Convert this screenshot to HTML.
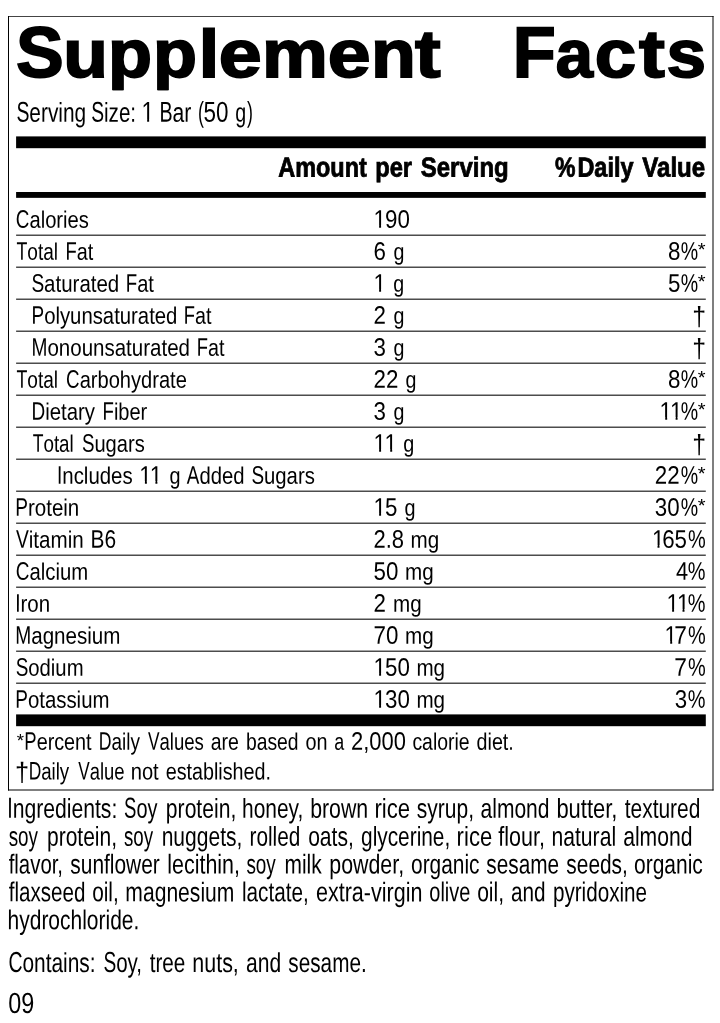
<!DOCTYPE html>
<html lang="en">
<head>
<meta charset="utf-8">
<title>Supplement Facts</title>
<style>
html,body{margin:0;padding:0;background:#fff;}
body{width:720px;height:1023px;overflow:hidden;}
svg{display:block;}
text{font-family:'Liberation Sans', sans-serif;fill:#000;white-space:pre;text-rendering:geometricPrecision;}
.b{font-weight:700;}
</style>
</head>
<body>
<svg width="720" height="1023" viewBox="0 0 720 1023" role="img" aria-label="Supplement Facts">
<desc>Supplement Facts
Serving Size: 1 Bar (50 g)
Amount per Serving %Daily Value
Calories
190
Total Fat
6 g
8%*
Saturated Fat
1 g
5%*
Polyunsaturated Fat
2 g
†
Monounsaturated Fat
3 g
†
Total Carbohydrate
22 g
8%*
Dietary Fiber
3 g
11%*
Total Sugars
11 g
†
Includes 11 g Added Sugars
22%*
Protein
15 g
30%*
Vitamin B6
2.8 mg
165%
Calcium
50 mg
4%
Iron
2 mg
11%
Magnesium
70 mg
17%
Sodium
150 mg
7%
Potassium
130 mg
3%
*Percent Daily Values are based on a 2,000 calorie diet.
†Daily Value not established.
Ingredients: Soy protein, honey, brown rice syrup, almond butter, textured
soy protein, soy nuggets, rolled oats, glycerine, rice flour, natural almond
flavor, sunflower lecithin, soy milk powder, organic sesame seeds, organic
flaxseed oil, magnesium lactate, extra-virgin olive oil, and pyridoxine
hydrochloride.
Contains: Soy, tree nuts, and sesame.
09</desc>
<rect width="720" height="1023" fill="#fff"/>
<rect x="8" y="16" width="705.5" height="1" fill="#444"/>
<rect x="8" y="789.5" width="705.5" height="1" fill="#000"/>
<rect x="8" y="16" width="1" height="774.5" fill="#000"/>
<rect x="712.5" y="16" width="1" height="774.5" fill="#000"/>
<rect x="16.1" y="136.4" width="689.7" height="11.8" fill="#000"/>
<rect x="16.1" y="192" width="689.7" height="5.85" fill="#000"/>
<rect x="16.1" y="714.4" width="689.7" height="11.8" fill="#000"/>
<rect x="16.1" y="234.65" width="689.7" height="1.05" fill="#000"/>
<rect x="16.1" y="266.65" width="689.7" height="1.05" fill="#000"/>
<rect x="16.1" y="298.65" width="689.7" height="1.05" fill="#000"/>
<rect x="16.1" y="330.65" width="689.7" height="1.05" fill="#000"/>
<rect x="16.1" y="362.65" width="689.7" height="1.05" fill="#000"/>
<rect x="16.1" y="394.65" width="689.7" height="1.05" fill="#000"/>
<rect x="16.1" y="426.65" width="689.7" height="1.05" fill="#000"/>
<rect x="16.1" y="458.65" width="689.7" height="1.05" fill="#000"/>
<rect x="16.1" y="490.65" width="689.7" height="1.05" fill="#000"/>
<rect x="16.1" y="522.65" width="689.7" height="1.05" fill="#000"/>
<rect x="16.1" y="554.65" width="689.7" height="1.05" fill="#000"/>
<rect x="16.1" y="586.65" width="689.7" height="1.05" fill="#000"/>
<rect x="16.1" y="618.65" width="689.7" height="1.05" fill="#000"/>
<rect x="16.1" y="650.65" width="689.7" height="1.05" fill="#000"/>
<rect x="16.1" y="682.65" width="689.7" height="1.05" fill="#000"/>
<clipPath id="tclip"><rect x="0" y="0" width="720" height="90.2"/></clipPath>
<text class="b" clip-path="url(#tclip)" y="77" font-size="67.2" stroke="#000" stroke-width="1.8" stroke-linejoin="miter"><tspan x="16.09" textLength="47.7" lengthAdjust="spacingAndGlyphs" font-size="71.6">S</tspan><tspan x="63.27" textLength="44.65" lengthAdjust="spacingAndGlyphs">u</tspan><tspan x="108.05" textLength="44" lengthAdjust="spacingAndGlyphs">p</tspan><tspan x="153.05" textLength="44" lengthAdjust="spacingAndGlyphs">p</tspan><tspan x="198.86" textLength="20.45" lengthAdjust="spacingAndGlyphs">l</tspan><tspan x="218.78" textLength="42.96" lengthAdjust="spacingAndGlyphs">e</tspan><tspan x="261.92" textLength="65.88" lengthAdjust="spacingAndGlyphs">m</tspan><tspan x="327.89" textLength="42.84" lengthAdjust="spacingAndGlyphs">e</tspan><tspan x="371.06" textLength="44.84" lengthAdjust="spacingAndGlyphs">n</tspan><tspan x="414.96" textLength="25.68" lengthAdjust="spacingAndGlyphs">t</tspan></text>
<text class="b" clip-path="url(#tclip)" y="77" font-size="67.2" stroke="#000" stroke-width="1.8" stroke-linejoin="miter"><tspan x="512.69" textLength="42.98" lengthAdjust="spacingAndGlyphs" font-size="71.6">F</tspan><tspan x="555.84" textLength="37.24" lengthAdjust="spacingAndGlyphs">a</tspan><tspan x="594.89" textLength="41.39" lengthAdjust="spacingAndGlyphs">c</tspan><tspan x="638.95" textLength="25.84" lengthAdjust="spacingAndGlyphs">t</tspan><tspan x="666.5" textLength="39.51" lengthAdjust="spacingAndGlyphs">s</tspan></text>
<text y="121.7" font-size="28.8" transform="rotate(0.05)"><tspan x="16.5" y="121.69" textLength="12.96" lengthAdjust="spacingAndGlyphs">S</tspan><tspan x="29.46" y="121.67" font-size="27.22" textLength="56.82" lengthAdjust="spacingAndGlyphs">erving</tspan> <tspan x="91.26" y="121.62" textLength="12.83" lengthAdjust="spacingAndGlyphs">S</tspan><tspan x="104.08" y="121.61" font-size="27.22" textLength="32.14" lengthAdjust="spacingAndGlyphs">ize:</tspan> <tspan x="141.61" y="121.58" textLength="12.49" lengthAdjust="spacingAndGlyphs">1</tspan> <tspan x="159.57" y="121.56" textLength="13.11" lengthAdjust="spacingAndGlyphs">B</tspan><tspan x="172.68" y="121.55" font-size="27.22" textLength="18.77" lengthAdjust="spacingAndGlyphs">ar</tspan> <tspan x="198.07" y="121.53" textLength="5.92" lengthAdjust="spacingAndGlyphs">(</tspan><tspan x="203.6" y="121.52" textLength="24.96" lengthAdjust="spacingAndGlyphs">50</tspan> <tspan x="235.29" y="121.49" font-size="27.22" textLength="10.92" lengthAdjust="spacingAndGlyphs">g</tspan><tspan x="247.11" y="121.48" textLength="5.92" lengthAdjust="spacingAndGlyphs">)</tspan></text>
<text class="b" y="176.4" font-size="27.4" stroke="#000" stroke-width="0.8" transform="rotate(0.05)"><tspan x="278.44" y="176.16" textLength="88.53" lengthAdjust="spacingAndGlyphs">Amount</tspan> <tspan x="375.32" y="176.07" textLength="36.87" lengthAdjust="spacingAndGlyphs">per</tspan> <tspan x="420.98" y="176.03" textLength="87.81" lengthAdjust="spacingAndGlyphs">Serving</tspan> <tspan x="555.19" y="175.92" textLength="20.49" lengthAdjust="spacingAndGlyphs">%</tspan><tspan x="577.59" y="175.9" textLength="56.02" lengthAdjust="spacingAndGlyphs">Daily</tspan> <tspan x="642.45" y="175.84" textLength="62.9" lengthAdjust="spacingAndGlyphs">Value</tspan></text>
<text y="227.7" font-size="25.3" transform="rotate(0.05)"><tspan x="16.07" y="227.69" textLength="13.57" lengthAdjust="spacingAndGlyphs">C</tspan><tspan x="29.64" y="227.67" font-size="23.91" textLength="59.44" lengthAdjust="spacingAndGlyphs">alories</tspan></text>
<text y="227.7" font-size="25.3" transform="rotate(0.05)"><tspan x="373.7" y="227.37" textLength="12.41" lengthAdjust="spacingAndGlyphs">1</tspan><tspan x="385.2" y="227.36" textLength="24.82" lengthAdjust="spacingAndGlyphs">90</tspan></text>
<text y="259.7" font-size="25.3" transform="rotate(0.05)"><tspan x="16.7" y="259.69" textLength="10.83" lengthAdjust="spacingAndGlyphs">T</tspan><tspan x="27.53" y="259.68" font-size="23.91" textLength="30.7" lengthAdjust="spacingAndGlyphs">otal</tspan> <tspan x="65.79" y="259.64" textLength="11.26" lengthAdjust="spacingAndGlyphs">F</tspan><tspan x="77.05" y="259.63" font-size="23.91" textLength="16.51" lengthAdjust="spacingAndGlyphs">at</tspan></text>
<text y="259.7" font-size="25.3" transform="rotate(0.05)"><tspan x="373.83" y="259.37" textLength="12.41" lengthAdjust="spacingAndGlyphs">6</tspan> <tspan x="393.61" y="259.36" font-size="23.91" textLength="10.92" lengthAdjust="spacingAndGlyphs">g</tspan></text>
<text y="259.7" font-size="25.3" transform="rotate(0.05)"><tspan x="668.33" y="259.12" textLength="12.41" lengthAdjust="spacingAndGlyphs">8</tspan><tspan x="681.02" y="259.11" textLength="17.39" lengthAdjust="spacingAndGlyphs">%</tspan><tspan x="697.91" y="254.99" font-size="18" textLength="7.8" lengthAdjust="spacingAndGlyphs">*</tspan></text>
<text y="291.7" font-size="25.3" transform="rotate(0.05)"><tspan x="31.66" y="291.67" textLength="12.72" lengthAdjust="spacingAndGlyphs">S</tspan><tspan x="44.38" y="291.66" font-size="23.91" textLength="75.13" lengthAdjust="spacingAndGlyphs">aturated</tspan> <tspan x="126.05" y="291.59" textLength="11.41" lengthAdjust="spacingAndGlyphs">F</tspan><tspan x="137.46" y="291.58" font-size="23.91" textLength="16.73" lengthAdjust="spacingAndGlyphs">at</tspan></text>
<text y="291.7" font-size="25.3" transform="rotate(0.05)"><tspan x="373.75" y="291.37" textLength="12.41" lengthAdjust="spacingAndGlyphs">1</tspan> <tspan x="393.64" y="291.36" font-size="23.91" textLength="10.92" lengthAdjust="spacingAndGlyphs">g</tspan></text>
<text y="291.7" font-size="25.3" transform="rotate(0.05)"><tspan x="668.35" y="291.12" textLength="12.41" lengthAdjust="spacingAndGlyphs">5</tspan><tspan x="681.04" y="291.11" textLength="17.39" lengthAdjust="spacingAndGlyphs">%</tspan><tspan x="697.94" y="286.99" font-size="18" textLength="7.8" lengthAdjust="spacingAndGlyphs">*</tspan></text>
<text y="323.7" font-size="25.3" transform="rotate(0.05)"><tspan x="31.8" y="323.67" textLength="12.62" lengthAdjust="spacingAndGlyphs">P</tspan><tspan x="44.42" y="323.66" font-size="23.91" textLength="133.25" lengthAdjust="spacingAndGlyphs">olyunsaturated</tspan> <tspan x="184.1" y="323.54" textLength="11.2" lengthAdjust="spacingAndGlyphs">F</tspan><tspan x="195.3" y="323.53" font-size="23.91" textLength="16.42" lengthAdjust="spacingAndGlyphs">at</tspan></text>
<text y="323.7" font-size="25.3" transform="rotate(0.05)"><tspan x="373.88" y="323.37" textLength="12.41" lengthAdjust="spacingAndGlyphs">2</tspan> <tspan x="393.67" y="323.36" font-size="23.91" textLength="10.92" lengthAdjust="spacingAndGlyphs">g</tspan></text>
<text y="323.7" font-size="25.3" transform="rotate(0.05)"><tspan x="692.48" y="325" font-size="27.1" textLength="13.79" lengthAdjust="spacingAndGlyphs">†</tspan></text>
<text y="355.7" font-size="25.3" transform="rotate(0.05)"><tspan x="31.82" y="355.67" textLength="15.91" lengthAdjust="spacingAndGlyphs">M</tspan><tspan x="47.73" y="355.66" font-size="23.91" textLength="142.54" lengthAdjust="spacingAndGlyphs">onounsaturated</tspan> <tspan x="197.08" y="355.53" textLength="11.22" lengthAdjust="spacingAndGlyphs">F</tspan><tspan x="208.29" y="355.52" font-size="23.91" textLength="16.45" lengthAdjust="spacingAndGlyphs">at</tspan></text>
<text y="355.7" font-size="25.3" transform="rotate(0.05)"><tspan x="373.91" y="355.37" textLength="12.41" lengthAdjust="spacingAndGlyphs">3</tspan> <tspan x="393.7" y="355.36" font-size="23.91" textLength="10.92" lengthAdjust="spacingAndGlyphs">g</tspan></text>
<text y="355.7" font-size="25.3" transform="rotate(0.05)"><tspan x="692.51" y="357" font-size="27.1" textLength="13.79" lengthAdjust="spacingAndGlyphs">†</tspan></text>
<text y="387.7" font-size="25.3" transform="rotate(0.05)"><tspan x="16.81" y="387.69" textLength="10.83" lengthAdjust="spacingAndGlyphs">T</tspan><tspan x="27.64" y="387.68" font-size="23.91" textLength="30.7" lengthAdjust="spacingAndGlyphs">otal</tspan> <tspan x="66.46" y="387.64" textLength="13.51" lengthAdjust="spacingAndGlyphs">C</tspan><tspan x="79.97" y="387.63" font-size="23.91" textLength="107.18" lengthAdjust="spacingAndGlyphs">arbohydrate</tspan></text>
<text y="387.7" font-size="25.3" transform="rotate(0.05)"><tspan x="373.94" y="387.37" textLength="24.82" lengthAdjust="spacingAndGlyphs">22</tspan> <tspan x="405.92" y="387.35" font-size="23.91" textLength="10.92" lengthAdjust="spacingAndGlyphs">g</tspan></text>
<text y="387.7" font-size="25.3" transform="rotate(0.05)"><tspan x="668.44" y="387.12" textLength="12.41" lengthAdjust="spacingAndGlyphs">8</tspan><tspan x="681.13" y="387.11" textLength="17.39" lengthAdjust="spacingAndGlyphs">%</tspan><tspan x="698.02" y="382.99" font-size="18" textLength="7.8" lengthAdjust="spacingAndGlyphs">*</tspan></text>
<text y="419.7" font-size="25.3" transform="rotate(0.05)"><tspan x="31.88" y="419.67" textLength="13.69" lengthAdjust="spacingAndGlyphs">D</tspan><tspan x="45.58" y="419.66" font-size="23.91" textLength="49.79" lengthAdjust="spacingAndGlyphs">ietary</tspan> <tspan x="102.91" y="419.61" textLength="11.38" lengthAdjust="spacingAndGlyphs">F</tspan><tspan x="114.29" y="419.6" font-size="23.91" textLength="33.37" lengthAdjust="spacingAndGlyphs">iber</tspan></text>
<text y="419.7" font-size="25.3" transform="rotate(0.05)"><tspan x="373.97" y="419.37" textLength="12.41" lengthAdjust="spacingAndGlyphs">3</tspan> <tspan x="393.75" y="419.36" font-size="23.91" textLength="10.92" lengthAdjust="spacingAndGlyphs">g</tspan></text>
<text y="419.7" font-size="25.3" transform="rotate(0.05)"><tspan x="659.97" y="419.12" textLength="12.41" lengthAdjust="spacingAndGlyphs">1</tspan><tspan x="670.37" y="419.12" textLength="12.41" lengthAdjust="spacingAndGlyphs">1</tspan><tspan x="681.15" y="419.11" textLength="17.39" lengthAdjust="spacingAndGlyphs">%</tspan><tspan x="698.05" y="414.99" font-size="18" textLength="7.8" lengthAdjust="spacingAndGlyphs">*</tspan></text>
<text y="451.7" font-size="25.3" transform="rotate(0.05)"><tspan x="33.12" y="451.67" textLength="10.7" lengthAdjust="spacingAndGlyphs">T</tspan><tspan x="43.82" y="451.66" font-size="23.91" textLength="30.32" lengthAdjust="spacingAndGlyphs">otal</tspan> <tspan x="82.31" y="451.63" textLength="12.49" lengthAdjust="spacingAndGlyphs">S</tspan><tspan x="94.8" y="451.62" font-size="23.91" textLength="50.32" lengthAdjust="spacingAndGlyphs">ugars</tspan></text>
<text y="451.7" font-size="25.3" transform="rotate(0.05)"><tspan x="373.89" y="451.37" textLength="12.41" lengthAdjust="spacingAndGlyphs">1</tspan><tspan x="384.99" y="451.36" textLength="12.41" lengthAdjust="spacingAndGlyphs">1</tspan> <tspan x="403.77" y="451.35" font-size="23.91" textLength="11.03" lengthAdjust="spacingAndGlyphs">g</tspan></text>
<text y="451.7" font-size="25.3" transform="rotate(0.05)"><tspan x="692.6" y="453" font-size="27.1" textLength="13.79" lengthAdjust="spacingAndGlyphs">†</tspan></text>
<text y="483.7" font-size="25.3" transform="rotate(0.05)"><tspan x="57.44" y="483.65" textLength="5.28" lengthAdjust="spacingAndGlyphs">I</tspan><tspan x="62.72" y="483.65" font-size="23.91" textLength="70.34" lengthAdjust="spacingAndGlyphs">ncludes</tspan> <tspan x="139.72" y="483.58" textLength="12.41" lengthAdjust="spacingAndGlyphs">1</tspan><tspan x="150.22" y="483.57" textLength="12.41" lengthAdjust="spacingAndGlyphs">1</tspan> <tspan x="169.8" y="483.55" font-size="23.91" textLength="11.03" lengthAdjust="spacingAndGlyphs">g</tspan> <tspan x="187.22" y="483.54" textLength="12.58" lengthAdjust="spacingAndGlyphs">A</tspan><tspan x="199.8" y="483.53" font-size="23.91" textLength="45.06" lengthAdjust="spacingAndGlyphs">dded</tspan> <tspan x="251.83" y="483.48" textLength="12.62" lengthAdjust="spacingAndGlyphs">S</tspan><tspan x="264.45" y="483.47" font-size="23.91" textLength="50.81" lengthAdjust="spacingAndGlyphs">ugars</tspan></text>
<text y="483.7" font-size="25.3" transform="rotate(0.05)"><tspan x="655.27" y="483.13" textLength="24.82" lengthAdjust="spacingAndGlyphs">22</tspan><tspan x="681.21" y="483.11" textLength="17.39" lengthAdjust="spacingAndGlyphs">%</tspan><tspan x="698.11" y="478.99" font-size="18" textLength="7.8" lengthAdjust="spacingAndGlyphs">*</tspan></text>
<text y="515.7" font-size="25.3" transform="rotate(0.05)"><tspan x="15.71" y="515.69" textLength="12.73" lengthAdjust="spacingAndGlyphs">P</tspan><tspan x="28.44" y="515.68" font-size="23.91" textLength="51.26" lengthAdjust="spacingAndGlyphs">rotein</tspan></text>
<text y="515.7" font-size="25.3" transform="rotate(0.05)"><tspan x="373.95" y="515.37" textLength="12.41" lengthAdjust="spacingAndGlyphs">1</tspan><tspan x="385.45" y="515.36" textLength="12.41" lengthAdjust="spacingAndGlyphs">5</tspan> <tspan x="404.83" y="515.35" font-size="23.91" textLength="11.03" lengthAdjust="spacingAndGlyphs">g</tspan></text>
<text y="515.7" font-size="25.3" transform="rotate(0.05)"><tspan x="655.3" y="515.13" textLength="24.82" lengthAdjust="spacingAndGlyphs">30</tspan><tspan x="681.24" y="515.11" textLength="17.39" lengthAdjust="spacingAndGlyphs">%</tspan><tspan x="698.13" y="510.99" font-size="18" textLength="7.8" lengthAdjust="spacingAndGlyphs">*</tspan></text>
<text y="547.7" font-size="25.3" transform="rotate(0.05)"><tspan x="16.48" y="547.69" textLength="12.8" lengthAdjust="spacingAndGlyphs">V</tspan><tspan x="29.28" y="547.67" font-size="23.91" textLength="54.96" lengthAdjust="spacingAndGlyphs">itamin</tspan> <tspan x="90.94" y="547.62" textLength="25.58" lengthAdjust="spacingAndGlyphs">B6</tspan></text>
<text y="547.7" font-size="25.3" transform="rotate(0.05)"><tspan x="373.95" y="547.37" textLength="30.52" lengthAdjust="spacingAndGlyphs">2.8</tspan> <tspan x="411.09" y="547.34" font-size="23.91" textLength="28.65" lengthAdjust="spacingAndGlyphs">mg</tspan></text>
<text y="547.7" font-size="25.3" transform="rotate(0.05)"><tspan x="652.38" y="547.13" textLength="12.41" lengthAdjust="spacingAndGlyphs">1</tspan><tspan x="662.68" y="547.12" textLength="24.82" lengthAdjust="spacingAndGlyphs">65</tspan><tspan x="688.36" y="547.1" textLength="17.72" lengthAdjust="spacingAndGlyphs">%</tspan></text>
<text y="579.7" font-size="25.3" transform="rotate(0.05)"><tspan x="16.37" y="579.69" textLength="13.65" lengthAdjust="spacingAndGlyphs">C</tspan><tspan x="30.02" y="579.67" font-size="23.91" textLength="58.64" lengthAdjust="spacingAndGlyphs">alcium</tspan></text>
<text y="579.7" font-size="25.3" transform="rotate(0.05)"><tspan x="374.11" y="579.37" textLength="24.82" lengthAdjust="spacingAndGlyphs">50</tspan> <tspan x="405.62" y="579.35" font-size="23.91" textLength="28.65" lengthAdjust="spacingAndGlyphs">mg</tspan></text>
<text y="579.7" font-size="25.3" transform="rotate(0.05)"><tspan x="676.41" y="579.11" textLength="12.13" lengthAdjust="spacingAndGlyphs">4</tspan><tspan x="688.38" y="579.1" textLength="17.72" lengthAdjust="spacingAndGlyphs">%</tspan></text>
<text y="611.7" font-size="25.3" transform="rotate(0.05)"><tspan x="15.79" y="611.69" textLength="5.3" lengthAdjust="spacingAndGlyphs">I</tspan><tspan x="21.09" y="611.68" font-size="23.91" textLength="29.59" lengthAdjust="spacingAndGlyphs">ron</tspan></text>
<text y="611.7" font-size="25.3" transform="rotate(0.05)"><tspan x="374.13" y="611.37" textLength="12.41" lengthAdjust="spacingAndGlyphs">2</tspan> <tspan x="393.64" y="611.36" font-size="23.91" textLength="28.65" lengthAdjust="spacingAndGlyphs">mg</tspan></text>
<text y="611.7" font-size="25.3" transform="rotate(0.05)"><tspan x="667.03" y="611.12" textLength="12.41" lengthAdjust="spacingAndGlyphs">1</tspan><tspan x="677.43" y="611.11" textLength="12.41" lengthAdjust="spacingAndGlyphs">1</tspan><tspan x="688.41" y="611.1" textLength="17.72" lengthAdjust="spacingAndGlyphs">%</tspan></text>
<text y="643.7" font-size="25.3" transform="rotate(0.05)"><tspan x="15.81" y="643.69" textLength="15.97" lengthAdjust="spacingAndGlyphs">M</tspan><tspan x="31.78" y="643.67" font-size="23.91" textLength="89.25" lengthAdjust="spacingAndGlyphs">agnesium</tspan></text>
<text y="643.7" font-size="25.3" transform="rotate(0.05)"><tspan x="374.16" y="643.37" textLength="24.82" lengthAdjust="spacingAndGlyphs">70</tspan> <tspan x="405.67" y="643.35" font-size="23.91" textLength="28.65" lengthAdjust="spacingAndGlyphs">mg</tspan></text>
<text y="643.7" font-size="25.3" transform="rotate(0.05)"><tspan x="665.16" y="643.12" textLength="12.41" lengthAdjust="spacingAndGlyphs">1</tspan><tspan x="674.75" y="643.11" textLength="12.64" lengthAdjust="spacingAndGlyphs">7</tspan><tspan x="688.44" y="643.1" textLength="17.72" lengthAdjust="spacingAndGlyphs">%</tspan></text>
<text y="675.7" font-size="25.3" transform="rotate(0.05)"><tspan x="16.25" y="675.69" textLength="12.61" lengthAdjust="spacingAndGlyphs">S</tspan><tspan x="28.86" y="675.68" font-size="23.91" textLength="55.28" lengthAdjust="spacingAndGlyphs">odium</tspan></text>
<text y="675.7" font-size="25.3" transform="rotate(0.05)"><tspan x="374.09" y="675.37" textLength="12.41" lengthAdjust="spacingAndGlyphs">1</tspan><tspan x="385.59" y="675.36" textLength="24.82" lengthAdjust="spacingAndGlyphs">50</tspan> <tspan x="417" y="675.34" font-size="23.91" textLength="28.65" lengthAdjust="spacingAndGlyphs">mg</tspan></text>
<text y="675.7" font-size="25.3" transform="rotate(0.05)"><tspan x="674.77" y="675.11" textLength="12.64" lengthAdjust="spacingAndGlyphs">7</tspan><tspan x="688.47" y="675.1" textLength="17.72" lengthAdjust="spacingAndGlyphs">%</tspan></text>
<text y="707.7" font-size="25.3" transform="rotate(0.05)"><tspan x="15.89" y="707.69" textLength="12.66" lengthAdjust="spacingAndGlyphs">P</tspan><tspan x="28.54" y="707.68" font-size="23.91" textLength="81.53" lengthAdjust="spacingAndGlyphs">otassium</tspan></text>
<text y="707.7" font-size="25.3" transform="rotate(0.05)"><tspan x="374.12" y="707.37" textLength="12.41" lengthAdjust="spacingAndGlyphs">1</tspan><tspan x="385.62" y="707.36" textLength="24.82" lengthAdjust="spacingAndGlyphs">30</tspan> <tspan x="417.03" y="707.34" font-size="23.91" textLength="28.65" lengthAdjust="spacingAndGlyphs">mg</tspan></text>
<text y="707.7" font-size="25.3" transform="rotate(0.05)"><tspan x="675.32" y="707.11" textLength="12.41" lengthAdjust="spacingAndGlyphs">3</tspan><tspan x="688.49" y="707.1" textLength="17.72" lengthAdjust="spacingAndGlyphs">%</tspan></text>
<text y="749.75" font-size="25.3" transform="rotate(0.05)"><tspan x="17.36" y="746.54" font-size="18" textLength="7.26" lengthAdjust="spacingAndGlyphs">*</tspan><tspan x="25.02" y="749.73" textLength="12.29" lengthAdjust="spacingAndGlyphs">P</tspan><tspan x="37.3" y="749.72" font-size="23.91" textLength="54.98" lengthAdjust="spacingAndGlyphs">ercent</tspan> <tspan x="99.48" y="749.66" textLength="12.74" lengthAdjust="spacingAndGlyphs">D</tspan><tspan x="112.22" y="749.65" font-size="23.91" textLength="28.43" lengthAdjust="spacingAndGlyphs">aily</tspan> <tspan x="148.65" y="749.62" textLength="11.52" lengthAdjust="spacingAndGlyphs">V</tspan><tspan x="160.18" y="749.61" font-size="23.91" textLength="44.36" lengthAdjust="spacingAndGlyphs">alues</tspan> <tspan x="211.35" y="749.57" font-size="23.91" textLength="28.1" lengthAdjust="spacingAndGlyphs">are</tspan> <tspan x="246.65" y="749.54" font-size="23.91" textLength="52.59" lengthAdjust="spacingAndGlyphs">based</tspan> <tspan x="306.04" y="749.48" font-size="23.91" textLength="22.03" lengthAdjust="spacingAndGlyphs">on</tspan> <tspan x="334.8" y="749.46" font-size="23.91" textLength="9.95" lengthAdjust="spacingAndGlyphs">a</tspan> <tspan x="351.63" y="749.44" textLength="54.87" lengthAdjust="spacingAndGlyphs">2,000</tspan> <tspan x="413.05" y="749.39" font-size="23.91" textLength="57.19" lengthAdjust="spacingAndGlyphs">calorie</tspan> <tspan x="477.24" y="749.33" font-size="23.91" textLength="37.19" lengthAdjust="spacingAndGlyphs">diet.</tspan></text>
<text y="779.4" font-size="25.3" transform="rotate(0.05)"><tspan x="15.8" y="781.29" font-size="27.1" textLength="14.11" lengthAdjust="spacingAndGlyphs">†</tspan><tspan x="29.32" y="779.37" textLength="12.55" lengthAdjust="spacingAndGlyphs">D</tspan><tspan x="41.87" y="779.36" font-size="23.91" textLength="28.01" lengthAdjust="spacingAndGlyphs">aily</tspan> <tspan x="78.98" y="779.33" textLength="11.42" lengthAdjust="spacingAndGlyphs">V</tspan><tspan x="90.4" y="779.32" font-size="23.91" textLength="34.77" lengthAdjust="spacingAndGlyphs">alue</tspan> <tspan x="131.42" y="779.29" font-size="23.91" textLength="27.99" lengthAdjust="spacingAndGlyphs">not</tspan> <tspan x="166.36" y="779.26" font-size="23.91" textLength="105.3" lengthAdjust="spacingAndGlyphs">established.</tspan></text>
<text y="817.8" font-size="29" transform="rotate(0.05)"><tspan x="7.87" y="817.79" textLength="5.47" lengthAdjust="spacingAndGlyphs">I</tspan><tspan x="13.35" y="817.79" font-size="27.4" textLength="104.68" lengthAdjust="spacingAndGlyphs">ngredients:</tspan> <tspan x="124.83" y="817.69" textLength="12.36" lengthAdjust="spacingAndGlyphs">S</tspan><tspan x="137.2" y="817.68" font-size="27.4" textLength="21.02" lengthAdjust="spacingAndGlyphs">oy</tspan> <tspan x="166.59" y="817.65" font-size="27.4" textLength="70.4" lengthAdjust="spacingAndGlyphs">protein,</tspan> <tspan x="242.71" y="817.59" font-size="27.4" textLength="61.27" lengthAdjust="spacingAndGlyphs">honey,</tspan> <tspan x="310.88" y="817.53" font-size="27.4" textLength="58.03" lengthAdjust="spacingAndGlyphs">brown</tspan> <tspan x="375.13" y="817.47" font-size="27.4" textLength="35.68" lengthAdjust="spacingAndGlyphs">rice</tspan> <tspan x="417.59" y="817.44" font-size="27.4" textLength="57.2" lengthAdjust="spacingAndGlyphs">syrup,</tspan> <tspan x="481.26" y="817.38" font-size="27.4" textLength="68.94" lengthAdjust="spacingAndGlyphs">almond</tspan> <tspan x="557.14" y="817.31" font-size="27.4" textLength="61.01" lengthAdjust="spacingAndGlyphs">butter,</tspan> <tspan x="625.41" y="817.25" font-size="27.4" textLength="75.68" lengthAdjust="spacingAndGlyphs">textured</tspan></text>
<text y="845.65" font-size="29" transform="rotate(0.05)"><tspan x="9.44" y="845.64" font-size="27.4" textLength="29.29" lengthAdjust="spacingAndGlyphs">soy</tspan> <tspan x="47.72" y="845.61" font-size="27.4" textLength="70.08" lengthAdjust="spacingAndGlyphs">protein,</tspan> <tspan x="124.65" y="845.54" font-size="27.4" textLength="29.09" lengthAdjust="spacingAndGlyphs">soy</tspan> <tspan x="162.42" y="845.51" font-size="27.4" textLength="80.69" lengthAdjust="spacingAndGlyphs">nuggets,</tspan> <tspan x="250.24" y="845.43" font-size="27.4" textLength="50.87" lengthAdjust="spacingAndGlyphs">rolled</tspan> <tspan x="308.88" y="845.38" font-size="27.4" textLength="45.63" lengthAdjust="spacingAndGlyphs">oats,</tspan> <tspan x="361.79" y="845.33" font-size="27.4" textLength="89.21" lengthAdjust="spacingAndGlyphs">glycerine,</tspan> <tspan x="457.36" y="845.25" font-size="27.4" textLength="35.57" lengthAdjust="spacingAndGlyphs">rice</tspan> <tspan x="499.04" y="845.21" font-size="27.4" textLength="46.61" lengthAdjust="spacingAndGlyphs">flour,</tspan> <tspan x="552.22" y="845.17" font-size="27.4" textLength="64.61" lengthAdjust="spacingAndGlyphs">natural</tspan> <tspan x="623.88" y="845.11" font-size="27.4" textLength="69.35" lengthAdjust="spacingAndGlyphs">almond</tspan></text>
<text y="873.5" font-size="29" transform="rotate(0.05)"><tspan x="9.46" y="873.49" font-size="27.4" textLength="54.32" lengthAdjust="spacingAndGlyphs">flavor,</tspan> <tspan x="71.14" y="873.44" font-size="27.4" textLength="89.43" lengthAdjust="spacingAndGlyphs">sunflower</tspan> <tspan x="168.13" y="873.35" font-size="27.4" textLength="72.54" lengthAdjust="spacingAndGlyphs">lecithin,</tspan> <tspan x="247.17" y="873.28" font-size="27.4" textLength="29.4" lengthAdjust="spacingAndGlyphs">soy</tspan> <tspan x="285.25" y="873.25" font-size="27.4" textLength="37.18" lengthAdjust="spacingAndGlyphs">milk</tspan> <tspan x="330.13" y="873.21" font-size="27.4" textLength="74.73" lengthAdjust="spacingAndGlyphs">powder,</tspan> <tspan x="411.81" y="873.14" font-size="27.4" textLength="68.48" lengthAdjust="spacingAndGlyphs">organic</tspan> <tspan x="487.14" y="873.08" font-size="27.4" textLength="72.77" lengthAdjust="spacingAndGlyphs">sesame</tspan> <tspan x="567.14" y="873.01" font-size="27.4" textLength="61.49" lengthAdjust="spacingAndGlyphs">seeds,</tspan> <tspan x="634.81" y="872.95" font-size="27.4" textLength="68.78" lengthAdjust="spacingAndGlyphs">organic</tspan></text>
<text y="901.35" font-size="29" transform="rotate(0.05)"><tspan x="9.49" y="901.34" font-size="27.4" textLength="76.66" lengthAdjust="spacingAndGlyphs">flaxseed</tspan> <tspan x="92.94" y="901.27" font-size="27.4" textLength="26.61" lengthAdjust="spacingAndGlyphs">oil,</tspan> <tspan x="126.17" y="901.24" font-size="27.4" textLength="109.01" lengthAdjust="spacingAndGlyphs">magnesium</tspan> <tspan x="242.79" y="901.14" font-size="27.4" textLength="66.74" lengthAdjust="spacingAndGlyphs">lactate,</tspan> <tspan x="316.81" y="901.07" font-size="27.4" textLength="106.38" lengthAdjust="spacingAndGlyphs">extra-virgin</tspan> <tspan x="430.16" y="900.97" font-size="27.4" textLength="40.93" lengthAdjust="spacingAndGlyphs">olive</tspan> <tspan x="477.93" y="900.93" font-size="27.4" textLength="26.93" lengthAdjust="spacingAndGlyphs">oil,</tspan> <tspan x="511.84" y="900.9" font-size="27.4" textLength="34.61" lengthAdjust="spacingAndGlyphs">and</tspan> <tspan x="553.7" y="900.87" font-size="27.4" textLength="94.13" lengthAdjust="spacingAndGlyphs">pyridoxine</tspan></text>
<text y="929.2" font-size="29" transform="rotate(0.05)"><tspan x="8.4" y="929.19" font-size="27.4" textLength="131.7" lengthAdjust="spacingAndGlyphs">hydrochloride.</tspan></text>
<text y="971.9" font-size="29" transform="rotate(0.05)"><tspan x="9.24" y="971.89" textLength="14.05" lengthAdjust="spacingAndGlyphs">C</tspan><tspan x="23.28" y="971.88" font-size="27.4" textLength="73.15" lengthAdjust="spacingAndGlyphs">ontains:</tspan> <tspan x="104.25" y="971.81" textLength="12.76" lengthAdjust="spacingAndGlyphs">S</tspan><tspan x="117.01" y="971.8" font-size="27.4" textLength="25.87" lengthAdjust="spacingAndGlyphs">oy,</tspan> <tspan x="150.55" y="971.77" font-size="27.4" textLength="35.54" lengthAdjust="spacingAndGlyphs">tree</tspan> <tspan x="193.21" y="971.73" font-size="27.4" textLength="46.44" lengthAdjust="spacingAndGlyphs">nuts,</tspan> <tspan x="246.89" y="971.68" font-size="27.4" textLength="35.14" lengthAdjust="spacingAndGlyphs">and</tspan> <tspan x="289.22" y="971.65" font-size="27.4" textLength="78.3" lengthAdjust="spacingAndGlyphs">sesame.</tspan></text>
<text y="1012.9" font-size="29" transform="rotate(0.05)"><tspan x="9.15" y="1012.89" textLength="25.98" lengthAdjust="spacingAndGlyphs">09</tspan></text>
<rect x="143" y="119" width="4.15" height="3" fill="#fff"/>
<rect x="149.13" y="119" width="3.87" height="3" fill="#fff"/>
<rect x="375" y="225" width="4.11" height="3" fill="#fff"/>
<rect x="381.08" y="225" width="3.92" height="3" fill="#fff"/>
<rect x="375" y="289" width="4.11" height="3" fill="#fff"/>
<rect x="381.08" y="289" width="3.92" height="3" fill="#fff"/>
<rect x="661" y="417" width="4.21" height="3" fill="#fff"/>
<rect x="667.18" y="417" width="3.82" height="3" fill="#fff"/>
<rect x="671" y="417" width="4.61" height="3" fill="#fff"/>
<rect x="677.58" y="417" width="4.42" height="3" fill="#fff"/>
<rect x="375" y="449" width="4.11" height="3" fill="#fff"/>
<rect x="381.08" y="449" width="3.92" height="3" fill="#fff"/>
<rect x="386" y="449" width="4.21" height="3" fill="#fff"/>
<rect x="392.18" y="449" width="3.82" height="3" fill="#fff"/>
<rect x="140" y="481" width="4.91" height="3" fill="#fff"/>
<rect x="146.88" y="481" width="4.12" height="3" fill="#fff"/>
<rect x="151" y="481" width="4.41" height="3" fill="#fff"/>
<rect x="157.38" y="481" width="4.62" height="3" fill="#fff"/>
<rect x="375" y="513" width="4.11" height="3" fill="#fff"/>
<rect x="381.08" y="513" width="3.92" height="3" fill="#fff"/>
<rect x="653" y="545" width="4.51" height="3" fill="#fff"/>
<rect x="659.48" y="545" width="4.52" height="3" fill="#fff"/>
<rect x="668" y="609" width="4.11" height="3" fill="#fff"/>
<rect x="674.08" y="609" width="3.92" height="3" fill="#fff"/>
<rect x="678" y="609" width="4.51" height="3" fill="#fff"/>
<rect x="684.48" y="609" width="4.52" height="3" fill="#fff"/>
<rect x="666" y="641" width="4.21" height="3" fill="#fff"/>
<rect x="672.18" y="641" width="3.82" height="3" fill="#fff"/>
<rect x="375" y="673" width="4.11" height="3" fill="#fff"/>
<rect x="381.08" y="673" width="3.92" height="3" fill="#fff"/>
<rect x="375" y="705" width="4.11" height="3" fill="#fff"/>
<rect x="381.08" y="705" width="3.92" height="3" fill="#fff"/>
</svg>
</body>
</html>
